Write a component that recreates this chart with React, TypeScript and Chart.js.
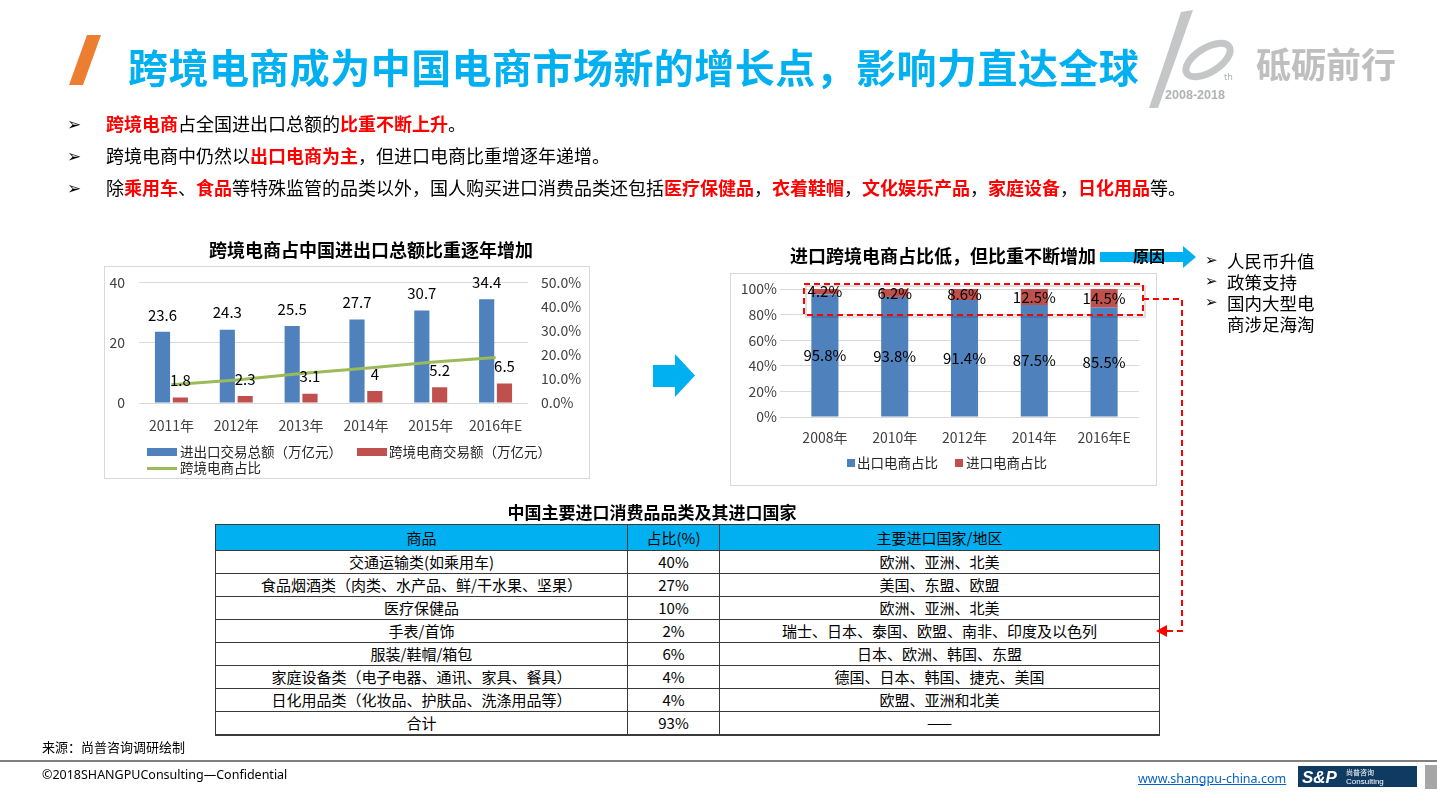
import React, { useEffect, useRef } from "react";
import { Chart, registerables } from "chart.js";

Chart.register(...registerables);

const FONT = '"Noto Sans CJK SC", "Noto Sans", sans-serif';

// ---- Left chart data ----
const tradeYears = ["2011年", "2012年", "2013年", "2014年", "2015年", "2016年E"];
const tradeTotal = [23.6, 24.3, 25.5, 27.7, 30.7, 34.4];
const crossBorderTrade = [1.8, 2.3, 3.1, 4, 5.2, 6.5];
const crossBorderShare = [7.6, 9.5, 12.2, 14.4, 16.9, 18.9];
const leftSeriesNames = ["进出口交易总额（万亿元）", "跨境电商交易额（万亿元）", "跨境电商占比"];

// ---- Right chart data ----
const shareYears = ["2008年", "2010年", "2012年", "2014年", "2016年E"];
const exportShare = [95.8, 93.8, 91.4, 87.5, 85.5];
const importShare = [4.2, 6.2, 8.6, 12.5, 14.5];
const rightSeriesNames = ["出口电商占比", "进口电商占比"];

// ---- Table data ----
const tableHeader = ["商品", "占比(%)", "主要进口国家/地区"];
const goodsNames = [
  "交通运输类(如乘用车)",
  "食品烟酒类（肉类、水产品、鲜/干水果、坚果）",
  "医疗保健品",
  "手表/首饰",
  "服装/鞋帽/箱包",
  "家庭设备类（电子电器、通讯、家具、餐具）",
  "日化用品类（化妆品、护肤品、洗涤用品等）",
  "合计",
];
const goodsShare = ["40%", "27%", "10%", "2%", "6%", "4%", "4%", "93%"];
const goodsOrigins = [
  "欧洲、亚洲、北美",
  "美国、东盟、欧盟",
  "欧洲、亚洲、北美",
  "瑞士、日本、泰国、欧盟、南非、印度及以色列",
  "日本、欧洲、韩国、东盟",
  "德国、日本、韩国、捷克、美国",
  "欧盟、亚洲和北美",
  "——",
];

const reasons = ["人民币升值", "政策支持", "国内大型电", "商涉足海淘"];

const BLUE = "#4F81BD";
const RED = "#C0504D";
const GREEN = "#9BBB59";
const CYAN = "#00B0F0";
const GRID = "#D9D9D9";
const TICK = "#404040";

function makeLabelPlugin(mode: "top" | "center", fmt: (v: number) => string) {
  return {
    id: "barValueLabels",
    afterDatasetsDraw(chart: any) {
      const ctx = chart.ctx;
      ctx.save();
      ctx.font = `15px ${FONT}`;
      ctx.fillStyle = "#000";
      ctx.textAlign = "center";
      ctx.textBaseline = "middle";
      chart.data.datasets.forEach((ds: any, i: number) => {
        if (ds.type === "line") return;
        const meta = chart.getDatasetMeta(i);
        meta.data.forEach((el: any, j: number) => {
          const v = ds.data[j];
          const p = el.getProps(["x", "y", "base"], true);
          const y = mode === "top" ? p.y - 17 : (p.y + p.base) / 2;
          ctx.fillText(fmt(v), p.x, y);
        });
      });
      ctx.restore();
    },
  };
}

function LeftChart() {
  const ref = useRef<HTMLCanvasElement>(null);
  useEffect(() => {
    const chart = new Chart(ref.current!, {
      type: "bar",
      data: {
        labels: tradeYears,
        datasets: [
          {
            type: "line",
            label: leftSeriesNames[2],
            data: crossBorderShare,
            borderColor: GREEN,
            borderWidth: 3,
            pointRadius: 0,
            yAxisID: "y1",
            order: 0,
          } as any,
          {
            type: "bar",
            label: leftSeriesNames[0],
            data: tradeTotal,
            backgroundColor: BLUE,
            yAxisID: "y",
            categoryPercentage: 0.55,
            barPercentage: 0.85,
            order: 1,
          },
          {
            type: "bar",
            label: leftSeriesNames[1],
            data: crossBorderTrade,
            backgroundColor: RED,
            yAxisID: "y",
            categoryPercentage: 0.55,
            barPercentage: 0.85,
            order: 1,
          },
        ],
      },
      options: {
        responsive: false,
        animation: false,
        layout: { padding: { top: 11, left: 0, right: 0, bottom: 0 } },
        plugins: { legend: { display: false }, tooltip: { enabled: false } },
        scales: {
          x: {
            grid: { display: false },
            border: { display: false },
            ticks: { font: { family: FONT, size: 14 }, color: TICK, padding: 6 },
            afterFit: (s: any) => {
              s.height = 35;
            },
          },
          y: {
            position: "left",
            min: 0,
            max: 40,
            ticks: { stepSize: 20, font: { family: FONT, size: 14 }, color: TICK, padding: 14 },
            grid: { color: GRID, drawTicks: false },
            border: { display: false },
            afterFit: (s: any) => {
              s.width = 35;
            },
          },
          y1: {
            position: "right",
            min: 0,
            max: 50,
            ticks: {
              stepSize: 10,
              font: { family: FONT, size: 14 },
              color: TICK,
              padding: 13,
              callback: (v: any) => Number(v).toFixed(1) + "%",
            },
            grid: { display: false, drawTicks: false },
            border: { display: false },
            afterFit: (s: any) => {
              s.width = 62;
            },
          },
        },
      },
      plugins: [makeLabelPlugin("top", (v) => String(v))],
    });
    return () => chart.destroy();
  }, []);
  return (
    <canvas
      ref={ref}
      width={486}
      height={178}
      style={{ position: "absolute", left: 104, top: 260, width: 486, height: 178 }}
    />
  );
}

function RightChart() {
  const ref = useRef<HTMLCanvasElement>(null);
  useEffect(() => {
    const chart = new Chart(ref.current!, {
      type: "bar",
      data: {
        labels: shareYears,
        datasets: [
          {
            label: rightSeriesNames[0],
            data: exportShare,
            backgroundColor: BLUE,
            categoryPercentage: 0.8,
            barPercentage: 0.485,
          },
          {
            label: rightSeriesNames[1],
            data: importShare,
            backgroundColor: RED,
            categoryPercentage: 0.8,
            barPercentage: 0.485,
          },
        ],
      },
      options: {
        responsive: false,
        animation: false,
        layout: { padding: { top: 16, left: 0, right: 17, bottom: 0 } },
        plugins: { legend: { display: false }, tooltip: { enabled: false } },
        scales: {
          x: {
            stacked: true,
            grid: { display: false },
            border: { display: false },
            ticks: { font: { family: FONT, size: 14 }, color: TICK, padding: 4 },
            afterFit: (s: any) => {
              s.height = 36;
            },
          },
          y: {
            stacked: true,
            min: 0,
            max: 100,
            ticks: {
              stepSize: 20,
              font: { family: FONT, size: 14 },
              color: TICK,
              padding: 3,
              callback: (v: any) => v + "%",
            },
            grid: { color: GRID, tickColor: GRID, tickLength: 10, drawTicks: true },
            border: { display: false },
            afterFit: (s: any) => {
              s.width = 59;
            },
          },
        },
      },
      plugins: [makeLabelPlugin("center", (v) => v.toFixed(1) + "%")],
    });
    return () => chart.destroy();
  }, []);
  return (
    <canvas
      ref={ref}
      width={425}
      height={180}
      style={{ position: "absolute", left: 731, top: 273, width: 425, height: 180 }}
    />
  );
}

type TProps = {
  x: number;
  y: number;
  size: number;
  bold?: boolean;
  color?: string;
  center?: boolean;
  family?: string;
  lh?: number;
  children: React.ReactNode;
  extra?: React.CSSProperties;
};
function T({ x, y, size, bold, color, center, family, lh = 1.2, children, extra }: TProps) {
  return (
    <div
      style={{
        position: "absolute",
        left: x,
        top: y - size * (lh / 2 + 0.056),
        fontSize: size,
        lineHeight: size * lh + "px",
        fontWeight: bold ? 700 : 400,
        color: color || "#000",
        whiteSpace: "nowrap",
        fontFamily: family || FONT,
        transform: center ? "translateX(-50%)" : undefined,
        zIndex: 5,
        ...extra,
      }}
    >
      {children}
    </div>
  );
}

const R = ({ children }: { children: React.ReactNode }) => (
  <span style={{ color: "#FF0000", fontWeight: 700 }}>{children}</span>
);

function Arrowhead({ x, y, s }: { x: number; y: number; s: number }) {
  return (
    <T x={x} y={y + s * 0.05} size={s} lh={1.0} family='"DejaVu Sans", sans-serif'>
      ➢
    </T>
  );
}

function Bullet({ y, children }: { y: number; children: React.ReactNode }) {
  return (
    <>
      <Arrowhead x={67} y={y} s={17} />
      <T x={106} y={y} size={18}>
        {children}
      </T>
    </>
  );
}

function Box({ l, t, w, h, style }: { l: number; t: number; w: number; h: number; style?: React.CSSProperties }) {
  return <div style={{ position: "absolute", left: l, top: t, width: w, height: h, ...style }} />;
}

function GoodsTable() {
  const colW = [411, 91, 439];
  const border = "1.5px solid #3A3A3A";
  const cell = (content: string, i: number, last: boolean): React.ReactNode => (
    <td
      key={i}
      style={{
        width: colW[i],
        border,
        borderBottom: last ? "2px solid #3A3A3A" : border,
        padding: 0,
        textAlign: "center",
        fontSize: 15,
        lineHeight: "20px",
        whiteSpace: "nowrap",
        color: "#000",
      }}
    >
      {content}
    </td>
  );
  return (
    <table
      style={{
        position: "absolute",
        left: 215,
        top: 524,
        width: 941,
        borderCollapse: "collapse",
        tableLayout: "fixed",
        fontFamily: FONT,
        zIndex: 3,
      }}
    >
      <tbody>
        <tr style={{ height: 26, background: CYAN }}>{tableHeader.map((h, i) => cell(h, i, false))}</tr>
        {goodsNames.map((g, r) => (
          <tr key={r} style={{ height: 23 }}>
            {[g, goodsShare[r], goodsOrigins[r]].map((c, i) => cell(c, i, r === goodsNames.length - 1))}
          </tr>
        ))}
      </tbody>
    </table>
  );
}

export default function App() {
  return (
    <div
      style={{
        position: "fixed",
        left: 0,
        top: 0,
        width: 1437,
        height: 807,
        background: "#fff",
        overflow: "hidden",
        fontFamily: FONT,
      }}
    >
      {/* chart frames */}
      <Box l={104} t={266} w={486} h={213} style={{ border: "1px solid #D9D9D9", boxSizing: "border-box" }} />
      <Box l={730} t={273} w={427} h={213} style={{ border: "1px solid #D9D9D9", boxSizing: "border-box" }} />

      <LeftChart />
      <RightChart />

      <svg
        width={1437}
        height={807}
        style={{ position: "absolute", left: 0, top: 0, zIndex: 4, pointerEvents: "none" }}
      >
        {/* orange slash */}
        <polygon points="87,35 101,35 83,85 69,85" fill="#ED7D31" />
        {/* anniversary logo */}
        <polygon points="1181,12 1193,10 1176,58 1158,108 1149,108 1166,58" fill="#C4C6C8" />
        <ellipse
          cx={1208}
          cy={60}
          rx={25}
          ry={12}
          transform="rotate(-32 1208 60)"
          fill="none"
          stroke="#C4C6C8"
          strokeWidth={7}
        />
        <text x={1224} y={80} fontSize={9} fill="#B0B2B4" fontFamily="Noto Sans">
          th
        </text>
        <text
          x={1165}
          y={99}
          fontSize={12}
          fontWeight={700}
          fill="#B0B2B4"
          fontFamily="Liberation Sans"
          textLength={60}
          lengthAdjust="spacingAndGlyphs"
        >
          2008-2018
        </text>
        {/* big arrow between charts */}
        <polygon points="653,365 675,365 675,354 695,375.5 675,397 675,387 653,387" fill={CYAN} />
        {/* reason arrow */}
        <polygon points="1100,252 1183,252 1183,246 1196,257 1183,268 1183,262 1100,262" fill={CYAN} />
        {/* red dashed highlight */}
        <rect x={806} y={286} width={339} height={31} fill="none" stroke="rgba(0,0,0,0.12)" strokeWidth={2} />
        <rect x={804} y={284} width={339} height={31} fill="none" stroke="#FF0000" strokeWidth={2} strokeDasharray="6 4" />
        <polyline
          points="1143,299 1182,299 1182,631 1166,631"
          fill="none"
          stroke="#FF0000"
          strokeWidth={2}
          strokeDasharray="6 4"
        />
        <polygon points="1156,631 1167,625 1167,637" fill="#FF0000" />
        {/* footer line */}
        <rect x={0} y={760} width={1437} height={2} fill="#808080" />
        {/* footer logo */}
        <rect x={1298} y={766} width={119} height={21} fill="#0F3B63" />
        <rect x={1425} y={765} width={12} height={24} fill="#A6A6A6" />
        <text x={1302} y={783} fontSize={17} fontWeight={700} fontStyle="italic" fill="#fff" fontFamily="Liberation Sans">
          S&amp;P
        </text>
        <text x={1346} y={775} fontSize={7} fill="#fff" fontFamily='"Noto Sans CJK SC"'>
          尚普咨询
        </text>
        <text x={1346} y={784} fontSize={8} fill="#fff" fontFamily="Liberation Sans">
          Consulting
        </text>
      </svg>

      {/* Title */}
      <T x={128} y={68} size={40} bold color={CYAN} extra={{ letterSpacing: "0.45px" }}>
        跨境电商成为中国电商市场新的增长点，影响力直达全球
      </T>
      <T x={1256} y={65} size={35} bold color="#BFBFBF">
        砥砺前行
      </T>

      {/* Bullets */}
      <Bullet y={125}>
        <R>跨境电商</R>占全国进出口总额的<R>比重不断上升</R>。
      </Bullet>
      <Bullet y={157}>
        跨境电商中仍然以<R>出口电商为主</R>，但进口电商比重增逐年递增。
      </Bullet>
      <Bullet y={189}>
        除<R>乘用车</R>、<R>食品</R>等特殊监管的品类以外，国人购买进口消费品类还包括<R>医疗保健品</R>，<R>衣着鞋帽</R>，
        <R>文化娱乐产品</R>，<R>家庭设备</R>，<R>日化用品</R>等。
      </Bullet>

      {/* Chart titles */}
      <T x={371} y={251} size={18} bold center>
        跨境电商占中国进出口总额比重逐年增加
      </T>
      <T x={790} y={257} size={18} bold>
        进口跨境电商占比低，但比重不断增加
      </T>
      <T x={1133} y={256} size={16} bold>
        原因
      </T>

      {/* reasons */}
      {[0, 1, 2].map((i) => (
        <Arrowhead key={i} x={1205} y={261 + i * 21} s={15} />
      ))}
      <T x={1227} y={261} size={17.5} lh={1.2}>
        {reasons.map((r, i) => (
          <React.Fragment key={r}>
            {i > 0 && <br />}
            {r}
          </React.Fragment>
        ))}
      </T>

      {/* Left legend */}
      <Box l={147} t={448} w={30} h={8} style={{ background: BLUE }} />
      <T x={180} y={452} size={13.5} lh={1.05} color="#262626">
        {leftSeriesNames[0]}
      </T>
      <Box l={357} t={448} w={30} h={8} style={{ background: RED }} />
      <T x={389} y={452} size={13.5} lh={1.05} color="#262626">
        {leftSeriesNames[1]}
      </T>
      <Box l={147} t={467} w={30} h={3} style={{ background: GREEN }} />
      <T x={180} y={468} size={13.5} lh={1.05} color="#262626">
        {leftSeriesNames[2]}
      </T>

      {/* Right legend */}
      <Box l={847} t={459} w={8} h={8} style={{ background: BLUE }} />
      <T x={857} y={463} size={13.5} color="#262626">
        {rightSeriesNames[0]}
      </T>
      <Box l={955} t={459} w={8} h={8} style={{ background: RED }} />
      <T x={966} y={463} size={13.5} color="#262626">
        {rightSeriesNames[1]}
      </T>

      {/* Table */}
      <T x={652} y={513} size={17} bold center>
        中国主要进口消费品品类及其进口国家
      </T>
      <GoodsTable />

      {/* Footer */}
      <T x={42} y={748} size={13}>
        来源：尚普咨询调研绘制
      </T>
      <T x={42} y={775} size={12.5} family='"Noto Sans", sans-serif'>
        ©2018SHANGPUConsulting—Confidential
      </T>
      <T x={1138} y={779} size={12.5} color="#0563C1" family='"Noto Sans", sans-serif' extra={{ textDecoration: "underline" }}>
        www.shangpu-china.com
      </T>
    </div>
  );
}
